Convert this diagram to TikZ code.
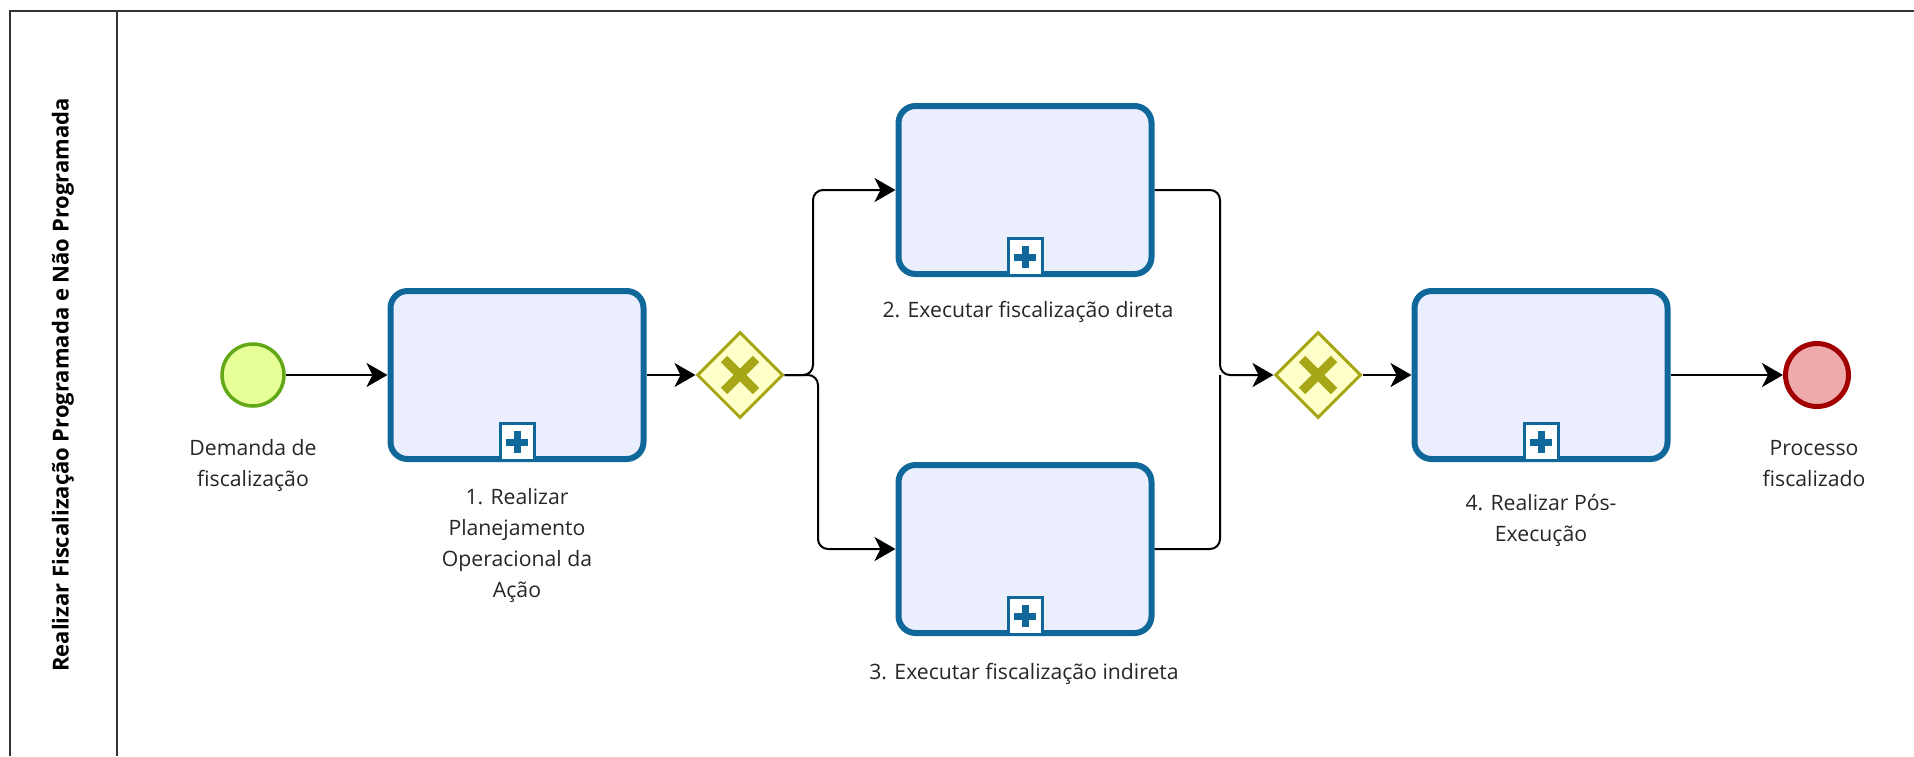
\documentclass[tikz,border=0pt]{standalone}
\usepackage{fontspec}
\setmainfont{Open Sans}
\usetikzlibrary{positioning}
\usetikzlibrary{shapes.geometric}
\usetikzlibrary{arrows.meta}

\definecolor{taskblue}{HTML}{10689A}
\definecolor{taskfill}{HTML}{EAEEFD}
\definecolor{startgreen}{HTML}{62A716}
\definecolor{startfill}{HTML}{E6FF97}
\definecolor{gwolive}{HTML}{A6A617}
\definecolor{gwfill}{HTML}{FFFFC9}
\definecolor{endred}{HTML}{A20000}
\definecolor{endfill}{HTML}{EEA9AA}
\definecolor{poolgray}{HTML}{333333}

\begin{document}
\begin{tikzpicture}
    [x=0.5pt, y=-0.5pt,
      every node/.style={font=\fontsize{10.6}{15.5}\selectfont},
      task/.style={draw=taskblue, fill=taskfill, line width=3pt,
        rounded corners=8.5pt, minimum width=126.5pt, minimum height=84pt},
      marker/.style={draw=taskblue, fill=white, line width=1.5pt,
        minimum width=17pt, minimum height=18.5pt, inner sep=0pt},
      plusbar/.style={draw=taskblue, line width=3.5pt},
      startev/.style={circle, draw=startgreen, fill=startfill, line width=1.75pt,
        minimum size=31pt, inner sep=0pt},
      endev/.style={circle, draw=endred, fill=endfill, line width=2.5pt,
        minimum size=31.5pt, inner sep=0pt},
      gateway/.style={diamond, draw=gwolive, fill=gwfill, line width=1.5pt,
        minimum size=43pt, inner sep=0pt},
      gwcross/.style={draw=gwolive, line width=4.5pt},
      lbl/.style={align=center, text=black!85},
      flow/.style={draw=black, line width=1pt, rounded corners=5pt,
        -{Stealth[length=10.5pt, width=12pt, inset=3pt]}},
      plain/.style={draw=black, line width=1pt, rounded corners=5pt},
     ]
    \useasboundingbox (0,0) rectangle (1914,756);

    % pool and lane
    \draw[poolgray, line width=1pt] (10,756) -- (10,11) -- (1914,11);
    \draw[poolgray, line width=1pt] (117,11) -- (117,756);
    \node[rotate=90, font=\fontsize{11}{14}\bfseries] (lane) at (63,385)
      {Realizar Fiscalização Programada e Não Programada};

    % events, tasks, gateways
    \node[startev] (start) at (253,375) {};
    \node[task] (t1) at (517,375) {};
    \node[gateway] (gw1) at (740,375) {};
    \node[task] (t2) at (1025,190) {};
    \node[task] (t3) at (1025,549) {};
    \node[gateway] (gw2) at (1318,375) {};
    \node[task] (t4) at (1541,375) {};
    \node[endev] (end) at (1817,375) {};

    % subprocess markers
    \foreach \t in {t1,t2,t3,t4} {
      \node[marker, above=0pt of \t.south] (\t-m) {};
      \draw[plusbar] ([xshift=-5.5pt]\t-m.center) -- ([xshift=5.5pt]\t-m.center);
      \draw[plusbar] ([yshift=-5.5pt]\t-m.center) -- ([yshift=5.5pt]\t-m.center);
    }

    % exclusive gateway crosses
    \foreach \g in {gw1,gw2} {
      \draw[gwcross] ([shift={(-8pt,-8pt)}]\g.center) -- ([shift={(8pt,8pt)}]\g.center);
      \draw[gwcross] ([shift={(-8pt,8pt)}]\g.center) -- ([shift={(8pt,-8pt)}]\g.center);
    }

    % labels
    \node[lbl] (startlbl) at (253,465) {Demanda de\\fiscalização};
    \node[lbl] (t1lbl) at (517,545) {1. Realizar\\Planejamento\\Operacional da\\Ação};
    \node[lbl] (t2lbl) at (1028,312) {2. Executar fiscalização direta};
    \node[lbl] (t3lbl) at (1024,674) {3. Executar fiscalização indireta};
    \node[lbl] (t4lbl) at (1541,520) {4. Realizar Pós-\\Execução};
    \node[lbl] (endlbl) at (1814,464) {Processo\\fiscalizado};

    % sequence flows
    \coordinate (splitup) at (813,375);
    \coordinate (splitdn) at (818,375);
    \coordinate (join) at (1220,375);
    \draw[flow] (start) -- (t1);
    \draw[flow] (t1) -- (gw1);
    \draw[flow] (gw1.east) -- (splitup) |- (t2.west);
    \draw[flow] (gw1.east) -- (splitdn) |- (t3.west);
    \draw[plain] (t3.east) -| (join);
    \draw[flow] (t2.east) -| (join) -- (gw2.west);
    \draw[flow] (gw2) -- (t4);
    \draw[flow] (t4) -- (end);
\end{tikzpicture}
\end{document}
